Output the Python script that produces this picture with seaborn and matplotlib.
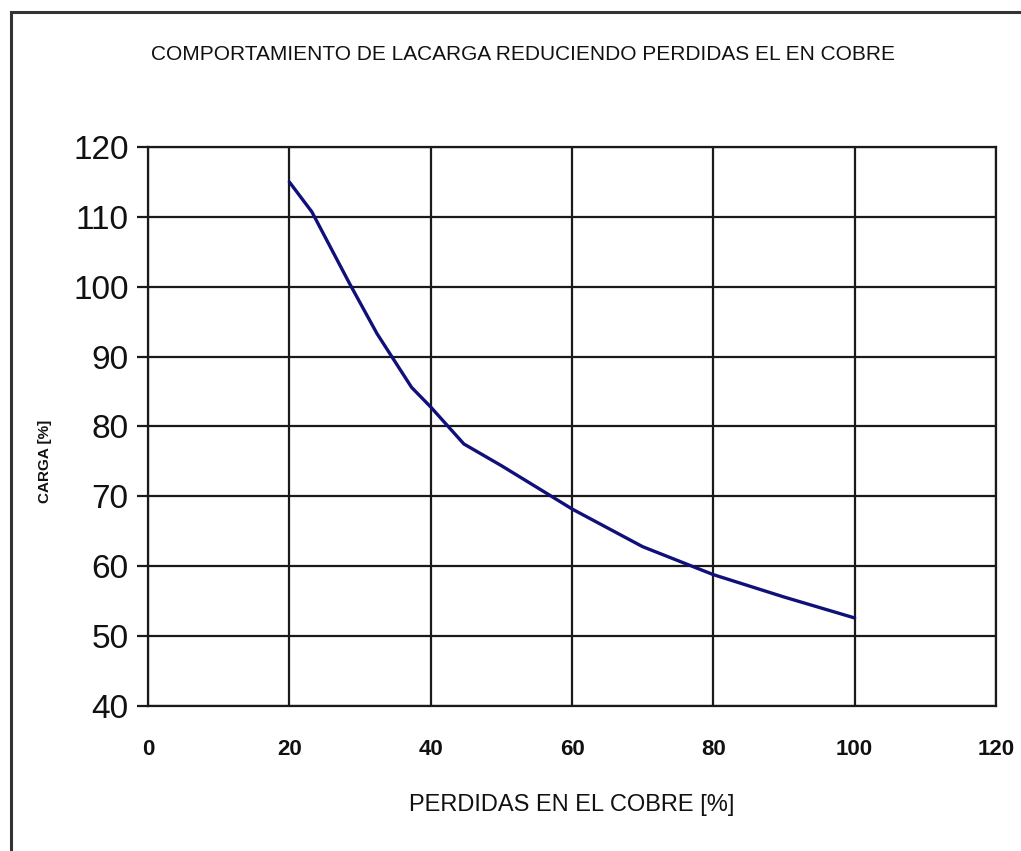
import matplotlib
matplotlib.use("Agg")
from matplotlib import pyplot as plt
from matplotlib.patches import Rectangle
import numpy as np
import pandas as pd
import seaborn as sns

# Values
perdidas = [20, 23.2, 28.5, 32.4, 37.3, 40, 44.7, 50, 55.5, 60, 70, 80, 90, 100]
carga = [115, 110.7, 100.5, 93.3, 85.6, 82.8, 77.5, 74.4, 71.0, 68.2, 62.8, 58.8, 55.6, 52.6]
x_ticks = [0, 20, 40, 60, 80, 100, 120]
y_ticks = [40, 50, 60, 70, 80, 90, 100, 110, 120]

TITLE = 'COMPORTAMIENTO DE LACARGA REDUCIENDO PERDIDAS EL EN COBRE'
XLABEL = 'PERDIDAS EN EL COBRE [%]'
YLABEL = 'CARGA [%]'

df = pd.DataFrame({'perdidas': perdidas, 'carga': carga})

sns.set_theme(style='white')
plt.rcParams['font.family'] = ['Liberation Sans', 'DejaVu Sans']

fig = plt.figure(figsize=(10.21, 8.51), dpi=100)
ax = fig.add_axes([148 / 1021, 1 - 706 / 851, (996 - 148) / 1021, (706 - 147) / 851])

sns.lineplot(data=df, x='perdidas', y='carga', ax=ax, color='#10107a', linewidth=2.4)

ax.set_xlim(0, 120)
ax.set_ylim(40, 120)
ax.set_xticks(x_ticks)
ax.set_yticks(y_ticks)
ax.grid(True, color='#1a1a1a', linewidth=1.6)
for side in ['left', 'bottom', 'top', 'right']:
    ax.spines[side].set_color('#1a1a1a')
    ax.spines[side].set_linewidth(1.6)

ax.tick_params(axis='y', which='major', left=True, length=8, width=1.6, color='#1a1a1a',
               labelsize=24, pad=6, labelcolor='#111111')
ax.tick_params(axis='x', which='major', bottom=False, labelsize=16, pad=18, labelcolor='#111111')
for lbl in ax.get_xticklabels():
    lbl.set_fontweight('bold')

ax.set_xlabel(XLABEL, fontsize=17, labelpad=24, color='#111111')
ax.set_ylabel(YLABEL, fontsize=11, fontweight='bold', color='#111111')
ax.yaxis.set_label_coords(-0.113, 0.437)

fig.text(523 / 1021, 1 - 55 / 851, TITLE, ha='center', va='center', fontsize=15,
         color='#111111')

# outer frame, cut off at the right and bottom edges
fig.patches.append(Rectangle((11 / 1021, -0.05), 1.1, 1 - 12 / 851 + 0.05, transform=fig.transFigure,
                             fill=False, edgecolor='#333333', linewidth=2.2))

fig.savefig('out.png', dpi=100)
